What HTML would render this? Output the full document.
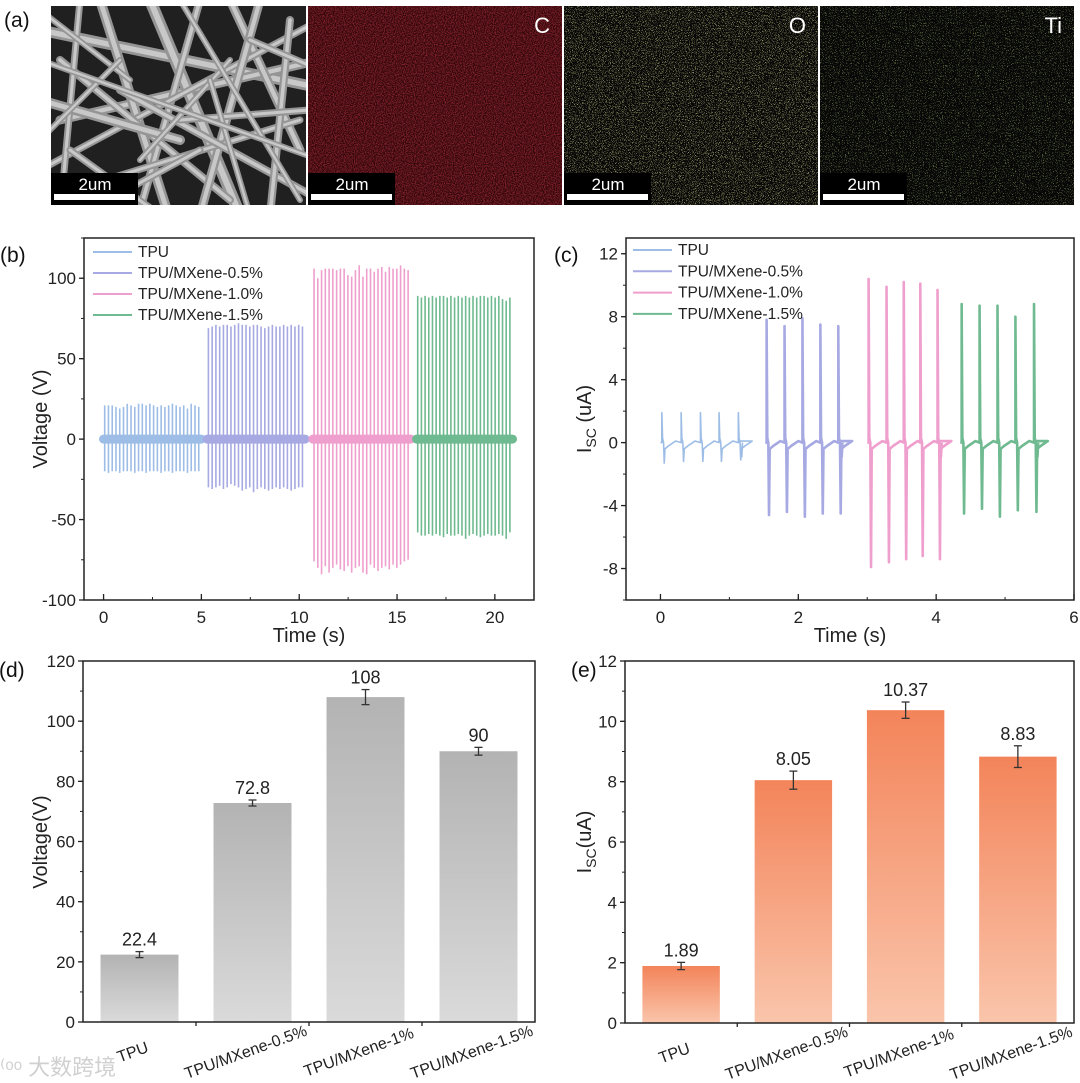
<!DOCTYPE html>
<html><head><meta charset="utf-8">
<style>
html,body{margin:0;padding:0;background:#fff;}
svg{display:block;font-family:"Liberation Sans",Arial,sans-serif;}
</style></head>
<body>
<svg id="fig" width="1080" height="1083" viewBox="0 0 1080 1083" xmlns="http://www.w3.org/2000/svg">
<defs>
  <linearGradient id="grayGrad" x1="0" y1="0" x2="0" y2="1">
    <stop offset="0" stop-color="#b3b3b3"/><stop offset="1" stop-color="#dadada"/>
  </linearGradient>
  <linearGradient id="orangeGrad" x1="0" y1="0" x2="0" y2="1">
    <stop offset="0" stop-color="#f3845a"/><stop offset="1" stop-color="#fac5ab"/>
  </linearGradient>
  <filter id="redNoise" x="0" y="0" width="100%" height="100%">
    <feTurbulence type="fractalNoise" baseFrequency="0.9" numOctaves="2" seed="3"/>
    <feColorMatrix type="matrix" values="0 0 0 0 0.42  0 0 0 0 0.03  0 0 0 0 0.05  1.8 0 0 0 -0.6"/>
  </filter>
  <filter id="yelNoise" x="0" y="0" width="100%" height="100%">
    <feTurbulence type="fractalNoise" baseFrequency="1.3" numOctaves="1" seed="7"/>
    <feColorMatrix type="matrix" values="0 0 0 0 0.6  0 0 0 0 0.6  0 0 0 0 0.25  7 0 0 0 -3.9"/>
  </filter>
  <filter id="grnNoise" x="0" y="0" width="100%" height="100%">
    <feTurbulence type="fractalNoise" baseFrequency="1.3" numOctaves="1" seed="11"/>
    <feColorMatrix type="matrix" values="0 0 0 0 0.35  0 0 0 0 0.45  0 0 0 0 0.15  7 0 0 0 -4.2"/>
  </filter>
</defs>
<g id="panelA"></g>
<g id="panelB"></g>
<g id="panelC"></g>
<g id="panelD"></g>
<g id="panelE"></g>
<text x="0" y="1075" font-size="22" fill="#d0d0d0" font-family="'Liberation Sans','Noto Sans CJK SC',sans-serif">  ⁽ᵒᵒ 大数跨境</text>
</svg>
<script>
const bSeriesNames = ["TPU","TPU/MXene-0.5%","TPU/MXene-1.0%","TPU/MXene-1.5%"];
const bSegStart = [0, 5.3, 10.7, 16.0];
const bSegEnd = [5.0, 10.3, 15.7, 20.9];
const bMaxTPU = [21,21,21,20,19,20,22,21,20,22,22,21,22,21,20,21,20,21,22,21,20,21,19,22,21,20];
const bMinTPU = [-20,-21,-20,-20,-21,-20,-20,-20,-21,-20,-20,-21,-20,-20,-20,-21,-20,-20,-21,-20,-20,-20,-21,-20,-20,-20];
const bMax05 = [69,70,71,70,71,71,70,71,72,71,71,70,71,71,70,69,70,71,70,70,71,70,71,70,71,70];
const bMin05 = [-30,-31,-30,-29,-31,-30,-28,-29,-30,-32,-31,-30,-33,-31,-30,-31,-32,-31,-30,-31,-30,-31,-32,-31,-30,-30];
const bMax10 = [106,100,105,106,106,106,105,106,106,102,101,105,108,101,106,106,104,106,107,104,107,106,106,108,106,105];
const bMin10 = [-76,-80,-84,-79,-83,-80,-78,-81,-82,-79,-83,-80,-79,-83,-84,-78,-80,-82,-80,-79,-81,-78,-80,-78,-76,-75];
const bMax15 = [89,88,89,88,89,88,89,89,88,89,88,89,88,89,88,89,88,89,89,88,89,88,89,87,86,88];
const bMin15 = [-58,-60,-60,-59,-60,-59,-60,-61,-59,-60,-60,-59,-60,-62,-60,-59,-60,-61,-60,-59,-60,-60,-59,-60,-62,-58];
const bXTicks = [0,5,10,15,20];
const bYTicks = [-100,-50,0,50,100];
const cSpikeTPU = [0.02,0.30,0.58,0.85,1.13];
const cMaxTPU = [1.9,1.9,1.9,1.9,1.9];
const cMinTPU = [-1.3,-1.2,-1.2,-1.2,-1.1];
const cSpike05 = [1.54,1.80,2.06,2.32,2.58];
const cMax05 = [7.8,7.4,7.9,7.5,7.4];
const cMin05 = [-4.6,-4.4,-4.7,-4.5,-4.5];
const cSpike10 = [3.02,3.28,3.53,3.77,4.02];
const cMax10 = [10.4,9.9,10.2,10.1,9.7];
const cMin10 = [-7.9,-7.6,-7.4,-7.2,-7.4];
const cSpike15 = [4.37,4.63,4.89,5.15,5.42];
const cMax15 = [8.8,8.7,8.7,8.0,8.8];
const cMin15 = [-4.5,-4.2,-4.7,-4.3,-4.4];
const cXTicks = [0,2,4,6];
const cYTicks = [-8,-4,0,4,8,12];
const barCategories = ["TPU","TPU/MXene-0.5%","TPU/MXene-1%","TPU/MXene-1.5%"];
const dValues = [22.4,72.8,108,90];
const dErrors = [1.0,1.0,2.5,1.3];
const dLabels = ["22.4","72.8","108","90"];
const dYTicks = [0,20,40,60,80,100,120];
const eValues = [1.89,8.05,10.37,8.83];
const eErrors = [0.12,0.3,0.27,0.36];
const eLabels = ["1.89","8.05","10.37","8.83"];
const eYTicks = [0,2,4,6,8,10,12];

const NS = "http://www.w3.org/2000/svg";
function mk(parent, tag, attrs, text){
  const e = document.createElementNS(NS, tag);
  for (const k in attrs) e.setAttribute(k, attrs[k]);
  if (text !== undefined) e.textContent = text;
  parent.appendChild(e);
  return e;
}
const colors = ["#9dbde6","#a6a9e2","#ef9fcd","#6fba90"];

(function(){
  const g = document.getElementById('panelA');
  let t = mk(g,'text',{x:4,y:27,'font-size':21,fill:'#111'},'(a)');
  
  
  const panels = [[51,306],[308,562],[564,818],[820,1074]];
  const sem = mk(g,'g',{});
  
  
  mk(sem,'rect',{x:51,y:6,width:255,height:199,fill:'#202020'});
  const cp = mk(g,'clipPath',{id:'semClip'}); mk(cp,'rect',{x:51,y:6,width:255,height:199});
  const fib = mk(sem,'g',{'clip-path':'url(#semClip)','stroke-linecap':'round'});
  const fibers = [[40,30,330,90,9],[60,120,320,60,7],[100,0,170,220,8],[150,0,240,215,10],[200,0,140,210,6],[230,0,300,150,7],[40,170,320,20,5],[60,60,230,200,6],[260,0,200,215,7],[40,200,300,120,5],[120,90,320,200,6],[80,0,60,215,5],[290,20,270,215,6],[40,100,180,140,8],[180,120,310,110,5],[140,160,230,60,4],[70,150,160,215,5],[210,80,250,215,4],[40,10,130,80,4],[250,40,320,70,5],[40,140,120,60,4],[180,0,300,200,4],[90,210,200,150,5],[40,60,320,160,4]];
  fibers.forEach(f=>{
    mk(fib,'line',{x1:f[0],y1:f[1],x2:f[2],y2:f[3],stroke:'#959595','stroke-width':f[4]+2});
    mk(fib,'line',{x1:f[0],y1:f[1],x2:f[2],y2:f[3],stroke:'#c8c8c8','stroke-width':f[4]*0.6});
  });
  const eds = [['#2a0406','redNoise','C','eds-carbon-map'],['#070707','yelNoise','O','eds-oxygen-map'],['#070707','grnNoise','Ti','eds-titanium-map']];
  eds.forEach((e,i)=>{
    const p = panels[i+1];
    const gg = mk(g,'g',{});
    
    
    mk(gg,'rect',{x:p[0],y:6,width:p[1]-p[0],height:199,fill:e[0]});
    mk(gg,'rect',{x:p[0],y:6,width:p[1]-p[0],height:199,filter:'url(#'+e[1]+')',fill:'#000'});
    const lt = mk(gg,'text',{x:p[1]-12,y:33,'font-size':22,fill:'#fff','text-anchor':'end'},e[2]);
    
    
  });
  panels.forEach(p=>{
    const sb = mk(g,'g',{});
    
    
    mk(sb,'rect',{x:p[0],y:173,width:87,height:32,fill:'#000'});
    mk(sb,'rect',{x:p[0]+3,y:194,width:81,height:6,fill:'#fff'});
    mk(sb,'text',{x:p[0]+44,y:190,'font-size':17,fill:'#fff','text-anchor':'middle'},'2um');
  });
})();

function frame(g, L, T, R, B){
  const r = mk(g,'rect',{x:L,y:T,width:R-L,height:B-T,fill:'none',stroke:'#222','stroke-width':1.5});
  
  
}
function yAxis(g, ticks, yf, L, minorStep, lo, hi){
  ticks.forEach(v=>{
    mk(g,'line',{x1:L-5,x2:L,y1:yf(v),y2:yf(v),stroke:'#222','stroke-width':1.3});
    const t = mk(g,'text',{x:L-8,y:yf(v)+6,'font-size':17,'text-anchor':'end',fill:'#222'},String(v));
    
    
  });
  for(let v=lo; v<=hi+1e-9; v+=minorStep){
    mk(g,'line',{x1:L-3,x2:L,y1:yf(v),y2:yf(v),stroke:'#222','stroke-width':1});
  }
}
function xAxisNum(g, ticks, xf, B, minorStep, lo, hi){
  ticks.forEach(v=>{
    mk(g,'line',{x1:xf(v),x2:xf(v),y1:B,y2:B-6,stroke:'#222','stroke-width':1.3});
    const t = mk(g,'text',{x:xf(v),y:B+23,'font-size':17,'text-anchor':'middle',fill:'#222'},String(v));
    
    
  });
  for(let v=lo; v<=hi+1e-9; v+=minorStep){
    mk(g,'line',{x1:xf(v),x2:xf(v),y1:B,y2:B-3,stroke:'#222','stroke-width':1});
  }
}
function legend(g, x, y0, dy){
  bSeriesNames.forEach((n,i)=>{
    const le = mk(g,'g',{});
    
    
    mk(le,'line',{x1:x,x2:x+39,y1:y0+i*dy,y2:y0+i*dy,stroke:colors[i],'stroke-width':2});
    mk(le,'text',{x:x+45,y:y0+i*dy+5,'font-size':15.5,fill:'#222'},n);
  });
}

(function(){
  const g = document.getElementById('panelB');
  const L=84,R=534,T=238,B=600;
  const xf = t => L + (t+1)*(R-L)/23;
  const yf = v => T + (125-v)*(B-T)/225;
  const lab = mk(g,'text',{x:0,y:262,'font-size':21,fill:'#111'},'(b)');
  
  
  const maxes=[bMaxTPU,bMax05,bMax10,bMax15], mins=[bMinTPU,bMin05,bMin10,bMin15];
  maxes.forEach((mx,s)=>{
    const sg = mk(g,'g',{stroke:colors[s],'stroke-width':1.6});
    
    
    const n = mx.length, st=bSegStart[s], en=bSegEnd[s];
    mk(sg,'line',{x1:xf(st),x2:xf(en),y1:yf(0),y2:yf(0),'stroke-width':9,'stroke-linecap':'round'});
    for(let i=0;i<n;i++){
      const t = st + (en-st)*(i+0.3)/n;
      const ln = mk(sg,'line',{x1:xf(t),x2:xf(t),y1:yf(mx[i]),y2:yf(mins[s][i])});
      
      
    }
  });
  frame(g,L,T,R,B);
  yAxis(g,bYTicks,yf,L,25,-100,125);
  xAxisNum(g,bXTicks,xf,B,2.5,0,20);
  const xt = mk(g,'text',{x:309,y:642,'font-size':20,'text-anchor':'middle',fill:'#222'},'Time (s)');
  
  
  const yt = mk(g,'text',{x:0,y:0,'font-size':20,'text-anchor':'middle',fill:'#222',transform:'translate(47,419) rotate(-90)'},'Voltage (V)');
  
  
  legend(g,93,252,21);
})();

(function(){
  const g = document.getElementById('panelC');
  const L=626,R=1074,T=238,B=600;
  const xf = t => L + (t+0.5)*(R-L)/6.5;
  const yf = v => T + (13-v)*(B-T)/23;
  const lab = mk(g,'text',{x:554,y:262,'font-size':21,fill:'#111'},'(c)');
  
  
  const sp=[cSpikeTPU,cSpike05,cSpike10,cSpike15], mx=[cMaxTPU,cMax05,cMax10,cMax15], mn=[cMinTPU,cMin05,cMin10,cMin15];
  sp.forEach((times,s)=>{
    let d = 'M'+xf(times[0]-0.02)+','+yf(0);
    times.forEach((t,i)=>{
      d += ' L'+xf(t)+','+yf(0)+' L'+xf(t)+','+yf(mx[s][i])+' L'+xf(t+0.01)+','+yf(0.3)+' L'+xf(t+0.025)+','+yf(0)+
           ' L'+xf(t+0.035)+','+yf(mn[s][i])+' L'+xf(t+0.045)+','+yf(-0.4)+' L'+xf(t+0.1)+','+yf(-0.2)+' L'+xf(t+0.2)+','+yf(0.1);
    });
    const last = times[times.length-1];
    d += ' L'+xf(last+0.02)+','+yf(0.1)+' L'+xf(last+0.05)+','+yf(-0.9)+' L'+xf(last+0.06)+','+yf(0);
    const p = mk(g,'path',{d:d,fill:'none',stroke:colors[s],'stroke-width':s===0?1.6:2.6,'stroke-linejoin':'round'});
    
    
  });
  frame(g,L,T,R,B);
  yAxis(g,cYTicks,yf,L,2,-10,12);
  xAxisNum(g,cXTicks,xf,B,1,0,6);
  const xt = mk(g,'text',{x:850,y:642,'font-size':20,'text-anchor':'middle',fill:'#222'},'Time (s)');
  
  
  const yt = mk(g,'text',{x:0,y:0,'font-size':20,'text-anchor':'middle',fill:'#222',transform:'translate(591,419) rotate(-90)'});
  
  
  mk(yt,'tspan',{},'I');
  mk(yt,'tspan',{'font-size':14,dy:5},'SC');
  mk(yt,'tspan',{dy:-5},' (uA)');
  legend(g,633,250,21.3);
})();

function barPanel(id, L, R, T, B, vals, errs, labs, ticks, max, minor, grad, label, ytitleFn){
  const g = document.getElementById(id);
  const yf = v => B - v/max*(B-T);
  const band = (R-L)/vals.length;
  const lb = mk(g,'text',{x:L-84+(id==='panelE'?30:0),y:677,'font-size':21,fill:'#111'},label);
  
  
  vals.forEach((v,i)=>{
    const cx = L + band*(i+0.5), w = band*0.69;
    const r = mk(g,'rect',{x:cx-w/2,y:yf(v),width:w,height:B-yf(v),fill:'url(#'+grad+')'});
    
    
    const eb = mk(g,'g',{stroke:'#333','stroke-width':1.3});
    
    
    mk(eb,'line',{x1:cx,x2:cx,y1:yf(v+errs[i]),y2:yf(v-errs[i])});
    mk(eb,'line',{x1:cx-4,x2:cx+4,y1:yf(v+errs[i]),y2:yf(v+errs[i])});
    mk(eb,'line',{x1:cx-4,x2:cx+4,y1:yf(v-errs[i]),y2:yf(v-errs[i])});
    const vt = mk(g,'text',{x:cx,y:yf(v+errs[i])-6,'font-size':18,'text-anchor':'middle',fill:'#222'},labs[i]);
    
    
    const ct = mk(g,'text',{x:0,y:0,'font-size':16,'text-anchor':'middle',fill:'#222',transform:'translate('+(cx-5)+','+(B+35)+') rotate(-20)'},barCategories[i]);
    
    
    if(i>0) mk(g,'line',{x1:L+band*i,x2:L+band*i,y1:B,y2:B+4,stroke:'#222','stroke-width':1.3});
  });
  frame(g,L,T,R,B);
  yAxis(g,ticks,yf,L,minor,0,max);
  ytitleFn(g);
}
barPanel('panelD',83,535,661,1022,dValues,dErrors,dLabels,dYTicks,120,10,'grayGrad','(d)',g=>{
  const yt = mk(g,'text',{x:0,y:0,'font-size':20,'text-anchor':'middle',fill:'#222',transform:'translate(47,842) rotate(-90)'},'Voltage(V)');
  
  
});
barPanel('panelE',625,1074,661,1023,eValues,eErrors,eLabels,eYTicks,12,1,'orangeGrad','(e)',g=>{
  const yt = mk(g,'text',{x:0,y:0,'font-size':20,'text-anchor':'middle',fill:'#222',transform:'translate(591,842) rotate(-90)'});
  
  
  mk(yt,'tspan',{},'I');
  mk(yt,'tspan',{'font-size':14,dy:5},'SC');
  mk(yt,'tspan',{dy:-5},'(uA)');
});
</script>
</body></html>
